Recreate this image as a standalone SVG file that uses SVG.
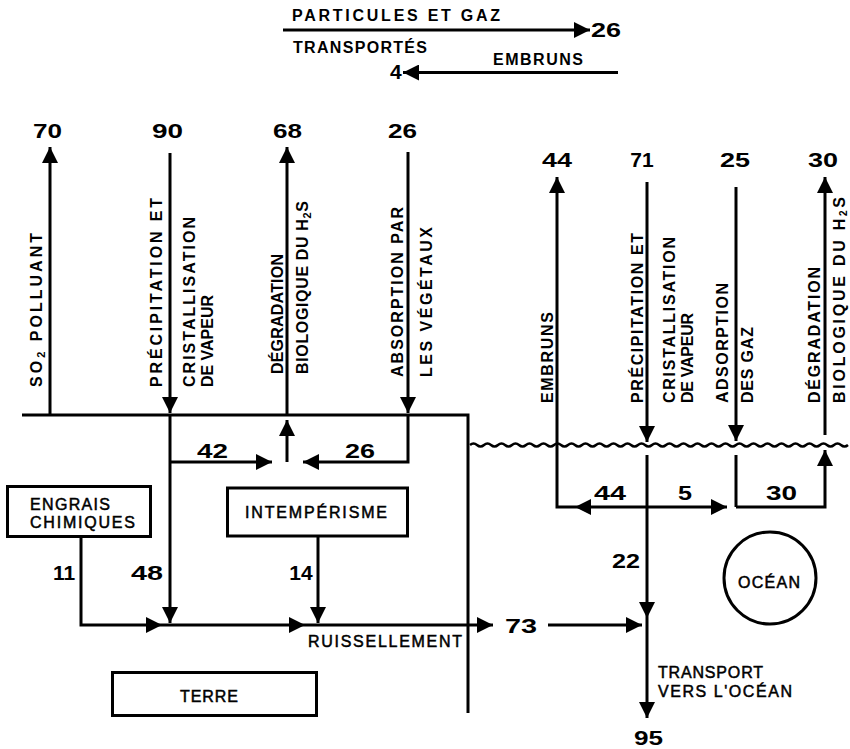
<svg xmlns="http://www.w3.org/2000/svg" width="850" height="749" viewBox="0 0 850 749">
<defs>
<style>
text{font-family:"Liberation Sans",Arial,sans-serif;fill:#000}
.b{font-weight:bold;font-size:16px}
.v{font-weight:bold;font-size:16px}
.n{font-weight:bold;font-size:21px}
.t{font-weight:normal;font-size:16px;stroke:#000;stroke-width:0.5}
.c{fill:none;stroke:#000;stroke-width:3}
.w{fill:none;stroke:#000;stroke-width:2.5}
.box{fill:#fff;stroke:#000;stroke-width:3}
</style>
<marker id="ah" viewBox="0 0 16 16" refX="16" refY="8" markerWidth="16" markerHeight="16" markerUnits="userSpaceOnUse" orient="auto"><path d="M0,0 L16,8 L0,16 Z" fill="#000"/></marker>
</defs>
<rect width="850" height="749" fill="#fff"/>

<g id="connectors">
<path class="c" d="M283 30 H590" marker-end="url(#ah)"/>
<path class="c" d="M618 72.5 H403" marker-end="url(#ah)"/>
<path class="c" d="M50 415 V147" marker-end="url(#ah)"/>
<path class="c" d="M170 153 V413" marker-end="url(#ah)"/>
<path class="c" d="M170 415 V623" marker-end="url(#ah)"/>
<path class="c" d="M170 462 H272" marker-end="url(#ah)"/>
<path class="c" d="M287 415 V147" marker-end="url(#ah)"/>
<path class="c" d="M287 462 V420" marker-end="url(#ah)"/>
<path class="c" d="M408 152 V413" marker-end="url(#ah)"/>
<path class="c" d="M408 415 V462 H303" marker-end="url(#ah)"/>
<path class="c" d="M22 415 H468 V713"/>
<path class="c" d="M81 537 V625 H162" marker-end="url(#ah)"/>
<path class="c" d="M162 625 H305" marker-end="url(#ah)"/>
<path class="c" d="M305 625 H493" marker-end="url(#ah)"/>
<path class="c" d="M318 537 V623" marker-end="url(#ah)"/>
<path class="c" d="M548 625 H642" marker-end="url(#ah)"/>
<path class="c" d="M647 507 H575" marker-end="url(#ah)"/>
<path class="c" d="M575 507 H557 V177" marker-end="url(#ah)"/>
<path class="c" d="M647 182 V442" marker-end="url(#ah)"/>
<path class="c" d="M647 455 V618" marker-end="url(#ah)"/>
<path class="c" d="M647 618 V718" marker-end="url(#ah)"/>
<path class="c" d="M647 507 H727" marker-end="url(#ah)"/>
<path class="c" d="M736 187 V441" marker-end="url(#ah)"/>
<path class="c" d="M736 455 V507"/>
<path class="c" d="M825 435 V177" marker-end="url(#ah)"/>
<path class="c" d="M736 507 H825 V450" marker-end="url(#ah)"/>
<path class="w" d="M470 445 q3.5 -3 7 0 t7 0 t7 0 t7 0 t7 0 t7 0 t7 0 t7 0 t7 0 t7 0 t7 0 t7 0 t7 0 t7 0 t7 0 t7 0 t7 0 t7 0 t7 0 t7 0 t7 0 t7 0 t7 0 t7 0 t7 0 t7 0 t7 0 t7 0 t7 0 t7 0 t7 0 t7 0 t7 0 t7 0 t7 0 t7 0 t7 0 t7 0 t7 0 t7 0 t7 0 t7 0 t7 0 t7 0 t7 0 t7 0 t7 0 t7 0 t7 0 t7 0 t7 0 t7 0 t7 0 t7 0"/>
</g>

<g id="header">
<text class="b" x="292" y="21" textLength="208" lengthAdjust="spacing">PARTICULES ET GAZ</text>
<text class="b" x="293" y="53" textLength="134" lengthAdjust="spacing">TRANSPORTÉS</text>
<text class="n" x="591" y="37" textLength="30" lengthAdjust="spacingAndGlyphs">26</text>
<text class="b" x="493" y="65" textLength="90" lengthAdjust="spacing">EMBRUNS</text>
<text class="n" x="390" y="79">4</text>
</g>

<g id="so2">
<text class="n" x="33" y="138" textLength="29" lengthAdjust="spacingAndGlyphs">70</text>
<text class="v" transform="translate(42,387) rotate(-90)" textLength="154" lengthAdjust="spacing">SO<tspan font-size="11" dy="3">2</tspan><tspan dy="-3"> POLLUANT</tspan></text>
</g>
<g id="precip-terre">
<text class="n" x="152" y="138" textLength="31" lengthAdjust="spacingAndGlyphs">90</text>
<text class="v" transform="translate(162,387) rotate(-90)" textLength="189" lengthAdjust="spacing">PRÉCIPITATION ET</text>
<text class="v" transform="translate(195,387) rotate(-90)" textLength="170" lengthAdjust="spacing">CRISTALLISATION</text>
<text class="v" transform="translate(213,387) rotate(-90)" textLength="92" lengthAdjust="spacing">DE VAPEUR</text>
</g>
<g id="degr-terre">
<text class="n" x="273" y="138" textLength="29" lengthAdjust="spacingAndGlyphs">68</text>
<text class="v" transform="translate(283,374) rotate(-90)" textLength="120" lengthAdjust="spacing">DÉGRADATION</text>
<text class="v" transform="translate(308,374) rotate(-90)" textLength="173" lengthAdjust="spacing">BIOLOGIQUE DU H<tspan font-size="11" dy="3">2</tspan><tspan dy="-3">S</tspan></text>
</g>
<g id="absorp-terre">
<text class="n" x="388" y="138" textLength="29" lengthAdjust="spacingAndGlyphs">26</text>
<text class="v" transform="translate(403,377) rotate(-90)" textLength="170" lengthAdjust="spacing">ABSORPTION PAR</text>
<text class="v" transform="translate(432,377) rotate(-90)" textLength="150" lengthAdjust="spacing">LES VÉGÉTAUX</text>
</g>
<g id="flux-terre">
<text class="n" x="197" y="458" textLength="31" lengthAdjust="spacingAndGlyphs">42</text>
<text class="n" x="345" y="458" textLength="30" lengthAdjust="spacingAndGlyphs">26</text>
<text class="n" x="64" y="580" text-anchor="middle">11</text>
<text class="n" x="131" y="580" textLength="32" lengthAdjust="spacingAndGlyphs">48</text>
<text class="n" x="301" y="580" text-anchor="middle">14</text>
<text class="t" x="308" y="647" textLength="154" lengthAdjust="spacing">RUISSELLEMENT</text>
<text class="n" x="505" y="633" textLength="32" lengthAdjust="spacingAndGlyphs">73</text>
</g>
<g id="engrais">
<rect class="box" x="7.5" y="486.5" width="143" height="50"/>
<text class="t" x="30" y="510" textLength="80" lengthAdjust="spacing">ENGRAIS</text>
<text class="t" x="30" y="528" textLength="105" lengthAdjust="spacing">CHIMIQUES</text>
</g>
<g id="intemperisme">
<rect class="box" x="227.5" y="488" width="180" height="48"/>
<text class="t" x="245" y="518" textLength="142" lengthAdjust="spacing">INTEMPÉRISME</text>
</g>
<g id="terre">
<rect class="box" x="112.5" y="672.5" width="204" height="43"/>
<text class="t" x="180" y="702" textLength="58" lengthAdjust="spacing">TERRE</text>
</g>

<g id="embruns">
<text class="n" x="542" y="167" textLength="30" lengthAdjust="spacingAndGlyphs">44</text>
<text class="v" transform="translate(553,403) rotate(-90)" textLength="91" lengthAdjust="spacing">EMBRUNS</text>
</g>
<g id="precip-ocean">
<text class="n" x="642" y="167" text-anchor="middle">71</text>
<text class="v" transform="translate(643,403) rotate(-90)" textLength="170" lengthAdjust="spacing">PRÉCIPITATION ET</text>
<text class="v" transform="translate(675,403) rotate(-90)" textLength="166" lengthAdjust="spacing">CRISTALLISATION</text>
<text class="v" transform="translate(693,403) rotate(-90)" textLength="90" lengthAdjust="spacing">DE VAPEUR</text>
</g>
<g id="adsorp-ocean">
<text class="n" x="720" y="167" textLength="30" lengthAdjust="spacingAndGlyphs">25</text>
<text class="v" transform="translate(728,403) rotate(-90)" textLength="120" lengthAdjust="spacing">ADSORPTION</text>
<text class="v" transform="translate(753,403) rotate(-90)" textLength="76" lengthAdjust="spacing">DES GAZ</text>
</g>
<g id="degr-ocean">
<text class="n" x="808" y="167" textLength="30" lengthAdjust="spacingAndGlyphs">30</text>
<text class="v" transform="translate(820,403) rotate(-90)" textLength="136" lengthAdjust="spacing">DÉGRADATION</text>
<text class="v" transform="translate(845,403) rotate(-90)" textLength="206" lengthAdjust="spacing">BIOLOGIQUE DU  H<tspan font-size="10" dy="2">2</tspan><tspan dy="-2">S</tspan></text>
</g>
<g id="flux-ocean">
<text class="n" x="594" y="500" textLength="32" lengthAdjust="spacingAndGlyphs">44</text>
<text class="n" x="678" y="500" textLength="14" lengthAdjust="spacingAndGlyphs">5</text>
<text class="n" x="766" y="500" textLength="31" lengthAdjust="spacingAndGlyphs">30</text>
<text class="n" x="612" y="568" textLength="28" lengthAdjust="spacingAndGlyphs">22</text>
</g>
<g id="ocean">
<circle cx="770" cy="578" r="46" fill="none" stroke="#000" stroke-width="3"/>
<text class="t" x="738" y="588" textLength="62" lengthAdjust="spacing">OCÉAN</text>
</g>
<g id="transport">
<text class="t" x="658" y="678" textLength="105" lengthAdjust="spacing">TRANSPORT</text>
<text class="t" x="658" y="697" textLength="134" lengthAdjust="spacing">VERS L'OCÉAN</text>
<text class="n" x="634" y="745" textLength="29" lengthAdjust="spacingAndGlyphs">95</text>
</g>
</svg>
